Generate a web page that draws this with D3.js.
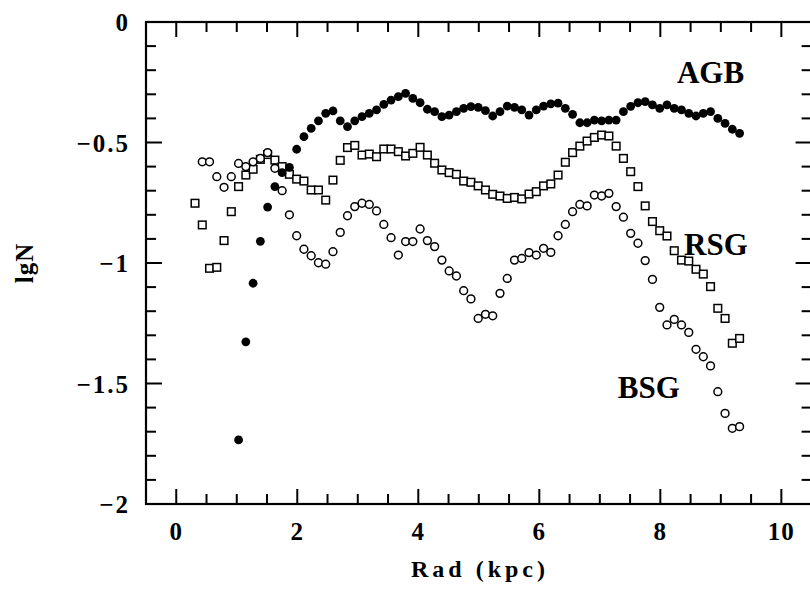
<!DOCTYPE html>
<html>
<head>
<meta charset="utf-8">
<script src="https://cdn.jsdelivr.net/npm/d3@7"></script>
<style>
  body { margin: 0; background: #fff; }
  svg { display: block; }
  text { font-family: "Liberation Serif", "DejaVu Serif", serif; fill: #000; }
</style>
</head>
<body>
<svg width="810" height="591"></svg>
<script>
// galactocentric radius (kpc) of each bin
const radii = [0.31, 0.43, 0.55, 0.67, 0.79, 0.91, 1.03, 1.15, 1.27, 1.39, 1.51, 1.63,
  1.75, 1.87, 1.99, 2.11, 2.23, 2.35, 2.47, 2.59, 2.71, 2.83, 2.95, 3.07,
  3.19, 3.31, 3.43, 3.55, 3.67, 3.79, 3.91, 4.03, 4.15, 4.27, 4.39, 4.51,
  4.63, 4.75, 4.87, 4.99, 5.11, 5.23, 5.35, 5.47, 5.59, 5.71, 5.83, 5.95,
  6.07, 6.19, 6.31, 6.43, 6.55, 6.67, 6.79, 6.91, 7.03, 7.15, 7.27, 7.39,
  7.51, 7.63, 7.75, 7.87, 7.99, 8.11, 8.23, 8.35, 8.47, 8.59, 8.71, 8.83,
  8.95, 9.07, 9.19, 9.31];

const agb = [null, null, null, null, null, null, -1.734, -1.327, -1.084, -0.910, -0.768, -0.683,
  -0.625, -0.603, -0.528, -0.476, -0.441, -0.410, -0.379, -0.369, -0.410, -0.434, -0.410, -0.393,
  -0.379, -0.365, -0.342, -0.324, -0.310, -0.296, -0.317, -0.335, -0.362, -0.372, -0.393, -0.386,
  -0.372, -0.358, -0.351, -0.354, -0.368, -0.390, -0.372, -0.349, -0.354, -0.365, -0.386, -0.365,
  -0.349, -0.340, -0.337, -0.358, -0.383, -0.418, -0.418, -0.407, -0.410, -0.407, -0.407, -0.372,
  -0.350, -0.335, -0.330, -0.344, -0.358, -0.344, -0.358, -0.365, -0.379, -0.390, -0.379, -0.372,
  -0.400, -0.421, -0.445, -0.462];

const rsg = [-0.752, -0.842, -1.022, -1.018, -0.907, -0.787, -0.683, -0.635, -0.611, -0.570, -0.550, -0.573,
  -0.600, -0.632, -0.652, -0.660, -0.697, -0.697, -0.739, -0.656, -0.574, -0.521, -0.512, -0.552,
  -0.548, -0.559, -0.527, -0.527, -0.538, -0.556, -0.545, -0.520, -0.552, -0.586, -0.614, -0.625,
  -0.632, -0.660, -0.665, -0.680, -0.697, -0.715, -0.722, -0.732, -0.728, -0.734, -0.714, -0.704,
  -0.680, -0.672, -0.635, -0.582, -0.542, -0.515, -0.494, -0.479, -0.469, -0.473, -0.515, -0.566,
  -0.621, -0.683, -0.763, -0.828, -0.866, -0.888, -0.949, -0.988, -0.992, -1.026, -1.046, -1.098,
  -1.188, -1.230, -1.333, -1.313];

const bsg = [null, -0.580, -0.580, -0.642, -0.686, -0.642, -0.587, -0.600, -0.580, -0.566, -0.542, -0.607,
  -0.700, -0.800, -0.887, -0.943, -0.970, -0.999, -1.005, -0.953, -0.873, -0.804, -0.766, -0.752,
  -0.757, -0.784, -0.840, -0.895, -0.967, -0.911, -0.911, -0.859, -0.907, -0.932, -0.988, -1.033,
  -1.054, -1.115, -1.149, -1.230, -1.213, -1.219, -1.126, -1.064, -0.988, -0.981, -0.957, -0.967,
  -0.939, -0.956, -0.887, -0.840, -0.787, -0.757, -0.763, -0.718, -0.722, -0.711, -0.766, -0.810,
  -0.877, -0.918, -0.990, -1.068, -1.184, -1.257, -1.234, -1.257, -1.288, -1.358, -1.389, -1.427,
  -1.534, -1.624, -1.686, -1.679];

const xTickLabels = [0, 2, 4, 6, 8, 10];
const yTickLabels = [0, -0.5, -1, -1.5, -2];

// series names, placed in data units (centre x, baseline y)
const labels = [
  { text: "AGB", x: 8.83, y: -0.253 },
  { text: "RSG", x: 8.92, y: -0.967 },
  { text: "BSG", x: 7.81, y: -1.56 }
];

const svg = d3.select("svg");
const plotL = 146, plotR = 811.6, plotT = 22, plotB = 504;

const x = d3.scaleLinear().domain([-0.5, 10.5]).range([plotL, plotR]);
const y = d3.scaleLinear().domain([0, -2]).range([plotT, plotB]);

// frame
svg.append("rect")
  .attr("x", plotL).attr("y", plotT)
  .attr("width", plotR - plotL).attr("height", plotB - plotT)
  .attr("fill", "none").attr("stroke", "#000").attr("stroke-width", 2.2);

// ticks on all four sides, pointing inward
const ax = svg.append("g").attr("stroke", "#000").attr("stroke-width", 2);
const xMinor = d3.range(0, 21).map(i => i * 0.5);
xMinor.forEach(v => {
  const len = (v % 2 === 0) ? 15 : 10;
  ax.append("line").attr("x1", x(v)).attr("x2", x(v)).attr("y1", plotB).attr("y2", plotB - len);
  ax.append("line").attr("x1", x(v)).attr("x2", x(v)).attr("y1", plotT).attr("y2", plotT + len);
});
const yMinor = d3.range(0, 21).map(i => -i / 10);
yMinor.forEach((v, i) => {
  const len = (i % 5 === 0) ? 16 : 10;
  ax.append("line").attr("x1", plotL).attr("x2", plotL + len).attr("y1", y(v)).attr("y2", y(v));
  ax.append("line").attr("x1", plotR).attr("x2", plotR - len).attr("y1", y(v)).attr("y2", y(v));
});

svg.selectAll(".xlab")
  .data(xTickLabels)
  .enter().append("text")
  .attr("x", d => x(d))
  .attr("y", 540)
  .attr("text-anchor", "middle")
  .attr("font-size", 25).attr("font-weight", "bold")
  .attr("letter-spacing", 1)
  .text(d => d);

svg.selectAll(".ylab")
  .data(yTickLabels)
  .enter().append("text")
  .attr("x", 130)
  .attr("y", d => y(d) + 9)
  .attr("text-anchor", "end")
  .attr("font-size", 25).attr("font-weight", "bold")
  .attr("letter-spacing", 2)
  .text(d => d === 0 ? "0" : "\u2212" + String(-d));

svg.append("text")
  .attr("x", 480).attr("y", 577)
  .attr("text-anchor", "middle")
  .attr("font-size", 24).attr("font-weight", "bold")
  .attr("letter-spacing", 4)
  .text("Rad (kpc)");

svg.append("text")
  .attr("transform", "translate(33,263) rotate(-90)")
  .attr("text-anchor", "middle")
  .attr("font-size", 25).attr("font-weight", "bold")
  .attr("letter-spacing", 1)
  .text("lgN");

const pts = (vals) => radii.map((r, i) => ({ r: r, v: vals[i] })).filter(d => d.v !== null);

// RSG: open squares
svg.append("g").selectAll("rect")
  .data(pts(rsg))
  .enter().append("rect")
  .attr("x", d => x(d.r) - 3.8)
  .attr("y", d => y(d.v) - 3.8)
  .attr("width", 7.6).attr("height", 7.6)
  .attr("fill", "#fff").attr("stroke", "#000").attr("stroke-width", 1.5);

// BSG: open circles
svg.append("g").selectAll("circle")
  .data(pts(bsg))
  .enter().append("circle")
  .attr("cx", d => x(d.r))
  .attr("cy", d => y(d.v))
  .attr("r", 3.9)
  .attr("fill", "#fff").attr("stroke", "#000").attr("stroke-width", 1.5);

// AGB: filled circles
svg.append("g").selectAll("circle")
  .data(pts(agb))
  .enter().append("circle")
  .attr("cx", d => x(d.r))
  .attr("cy", d => y(d.v))
  .attr("r", 4.4)
  .attr("fill", "#000");

svg.selectAll(".lab")
  .data(labels)
  .enter().append("text")
  .attr("x", d => x(d.x))
  .attr("y", d => y(d.y))
  .attr("text-anchor", "middle")
  .attr("font-size", 31).attr("font-weight", "bold")
  .text(d => d.text);
</script>
</body>
</html>
